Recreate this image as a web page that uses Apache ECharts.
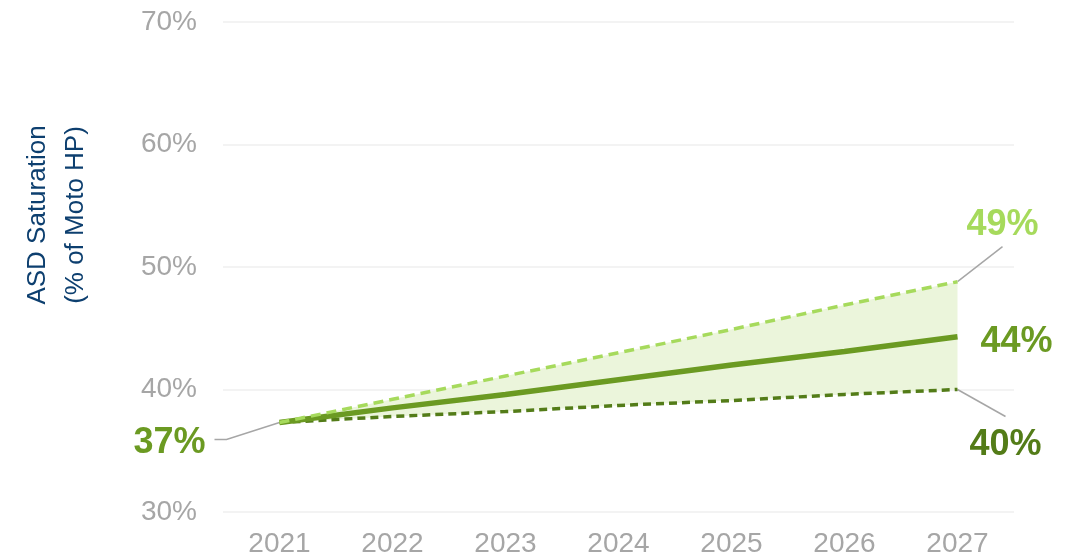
<!DOCTYPE html>
<html>
<head>
<meta charset="utf-8">
<script src="https://cdn.jsdelivr.net/npm/echarts@6/dist/echarts.min.js"></script>
<style>
  html, body { margin: 0; padding: 0; background: #fff; }
  #chart { width: 1079px; height: 558px; }
</style>
</head>
<body>
<div id="chart"></div>
<script>
const years = ['2021', '2022', '2023', '2024', '2025', '2026', '2027']
const highCase = [37.3, 39.2, 41.1, 43.0, 44.9, 46.9, 48.8]
const baseCase = [37.3, 38.5, 39.6, 40.8, 42.0, 43.1, 44.3]
const lowCase = [37.3, 37.8, 38.2, 38.7, 39.1, 39.6, 40.0]
const yTicks = { min: 30, max: 70, interval: 10 }

const lightGreen = '#a6da5c'
const midGreen = '#6b9a22'
const darkGreen = '#537c18'
const bandFill = '#ebf5db'
const gray = '#a6a6a6'
const font = '"Liberation Sans", Arial, sans-serif'

const chart = echarts.init(document.getElementById('chart'))

// band = high minus low, stacked on low
const band = highCase.map((v, i) => +(v - lowCase[i]).toFixed(2))

chart.setOption({
  animation: false,
  grid: { left: 223, right: 65, top: 22, bottom: 44 },
  xAxis: {
    type: 'category',
    data: years,
    boundaryGap: true,
    axisLine: { show: false },
    axisTick: { show: false },
    axisLabel: { color: gray, fontSize: 28, fontFamily: font, margin: 18 }
  },
  yAxis: {
    type: 'value',
    min: yTicks.min,
    max: yTicks.max,
    interval: yTicks.interval,
    axisLine: { show: false },
    axisTick: { show: false },
    splitLine: { lineStyle: { color: '#efefef', width: 1.5 } },
    axisLabel: { color: gray, fontSize: 28, fontFamily: font, margin: 26, formatter: '{value}%' }
  },
  series: [
    {
      name: 'base',
      type: 'line',
      stack: 'band',
      data: lowCase,
      symbol: 'none',
      lineStyle: { opacity: 0 },
      silent: true
    },
    {
      name: 'range',
      type: 'line',
      stack: 'band',
      data: band,
      symbol: 'none',
      lineStyle: { opacity: 0 },
      areaStyle: { color: bandFill, opacity: 1 },
      silent: true
    },
    {
      name: 'Low',
      type: 'line',
      data: lowCase,
      symbol: 'none',
      lineStyle: { color: darkGreen, width: 3.5, type: [8, 5] },
      z: 3
    },
    {
      name: 'Base',
      type: 'line',
      data: baseCase,
      symbol: 'none',
      lineStyle: { color: midGreen, width: 5.5 },
      z: 4
    },
    {
      name: 'High',
      type: 'line',
      data: highCase,
      symbol: 'none',
      lineStyle: { color: lightGreen, width: 3.5, type: [10, 6] },
      z: 5
    }
  ]
})

// annotations placed relative to the line ends
const last = years.length - 1
const pt = (y, v) => chart.convertToPixel({ seriesIndex: 2 }, [y, v])
const pHigh = pt(last, highCase[last])
const pBase = pt(last, baseCase[last])
const pLow = pt(last, lowCase[last])
const pStart = pt(0, baseCase[0])

const label = (x, y, text, color) => ({
  type: 'text',
  x: x, y: y,
  style: {
    text: text, fill: color, font: 'bold 36px ' + font,
    align: 'center', verticalAlign: 'middle'
  }
})
const leader = (points) => ({
  type: 'polyline',
  shape: { points: points },
  style: { stroke: gray, lineWidth: 1.5, fill: null }
})

chart.setOption({
  graphic: [
    {
      type: 'text',
      x: 57, y: 215,
      rotation: Math.PI / 2,
      style: {
        text: 'ASD Saturation\n(% of Moto HP)',
        fill: '#0d3f6f', font: '26px ' + font,
        align: 'center', verticalAlign: 'middle', lineHeight: 38
      }
    },
    leader([[pHigh[0], pHigh[1]], [pHigh[0] + 45, pHigh[1] - 35]]),
    leader([[pLow[0], pLow[1]], [pLow[0] + 48, pLow[1] + 27]]),
    leader([[pStart[0], pStart[1]], [pStart[0] - 53, pStart[1] + 17], [pStart[0] - 65, pStart[1] + 17]]),
    label(pHigh[0] + 45, pHigh[1] - 57, Math.round(highCase[last]) + '%', lightGreen),
    label(pBase[0] + 59, pBase[1] + 5, Math.round(baseCase[last]) + '%', midGreen),
    label(pLow[0] + 48, pLow[1] + 56, Math.round(lowCase[last]) + '%', darkGreen),
    label(pStart[0] - 110, pStart[1] + 21, Math.round(baseCase[0]) + '%', midGreen)
  ]
})

window.addEventListener('resize', () => chart.resize())
</script>
</body>
</html>
